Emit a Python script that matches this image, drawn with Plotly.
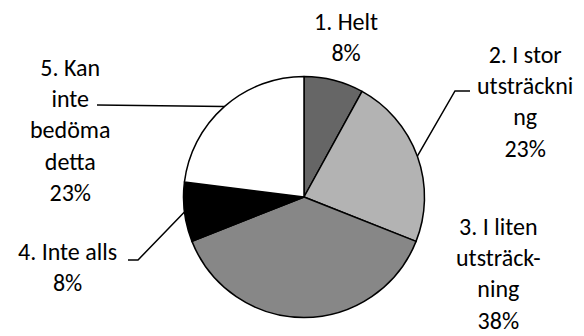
import math
import plotly.graph_objects as go

categories = ["1. Helt", "2. I stor utsträckning", "3. I liten utsträckning", "4. Inte alls", "5. Kan inte bedöma detta"]
values = [8, 23, 38, 8, 23]
label_texts = ["1. Helt<br>8%", "2. I stor<br>utsträckni<br>ng<br>23%", "3. I liten<br>utsträck-<br>ning<br>38%",
               "4. Inte alls<br>8%", "5. Kan<br>inte<br>bedöma<br>detta<br>23%"]
colors = ["#666666", "#b3b3b3", "#878787", "#000000", "#ffffff"]

W, H = 584, 336
cx, cy, r = 304, 197, 120.5

def px(x):
    return x / W

def py(y):
    return 1 - y / H

fig = go.Figure(go.Pie(
    labels=categories, values=values, sort=False, direction="clockwise", rotation=0,
    marker=dict(colors=colors, line=dict(color="#000000", width=1.5)),
    textinfo="none", hoverinfo="label+percent", showlegend=False,
    domain=dict(x=[px(cx - r), px(cx + r)], y=[py(cy + r), py(cy - r)]),
))

# label centres (pixels)
label_pos = [(346, 37), (525, 101), (498, 273), (67, 267), (70, 130)]
font = dict(family="Calibri, Carlito, Lato, sans-serif", size=24, color="#000000")
for t, (x, y) in zip(label_texts, label_pos):
    fig.add_annotation(x=px(x), y=py(y), xref="paper", yref="paper", text=t, showarrow=False,
                       xanchor="center", yanchor="middle", align="center", font=font)

# edge point at slice middle, computed from data
total = sum(values)
def edge(i):
    c = sum(values[:i]) + values[i] / 2
    a = 2 * math.pi * c / total
    return cx + r * math.sin(a), cy - r * math.cos(a)

leaders = {
    1: [(470, 91), (455, 91)],
    3: [(128, 260), (138, 260)],
    4: [(97, 105)],
}
for i, pts in leaders.items():
    pts = pts + [edge(i)]
    path = "M " + " L ".join(f"{px(x)},{py(y)}" for x, y in pts)
    fig.add_shape(type="path", path=path, xref="paper", yref="paper",
                  line=dict(color="#000000", width=1.5))

fig.update_layout(width=W, height=H, margin=dict(l=0, r=0, t=0, b=0),
                  paper_bgcolor="#ffffff", plot_bgcolor="#ffffff")
fig.write_html("out.html")
